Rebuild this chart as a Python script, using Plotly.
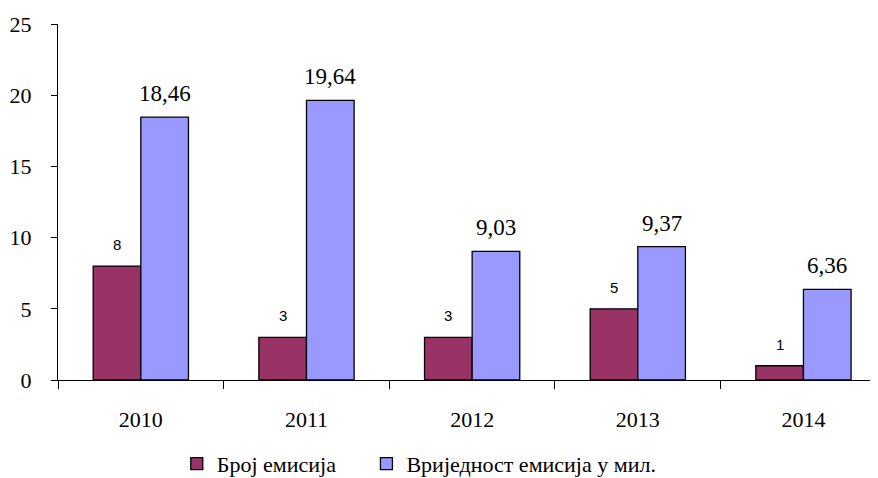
import plotly.graph_objects as go

years = ["2010", "2011", "2012", "2013", "2014"]
broj = [8, 3, 3, 5, 1]
vrijednost = [18.46, 19.64, 9.03, 9.37, 6.36]
vrijednost_labels = ["18,46", "19,64", "9,03", "9,37", "6,36"]
broj_labels = [str(v) for v in broj]

SERIF = "Liberation Serif"
SANS = "Liberation Sans"
MAROON = "#993366"
BLUE = "#9999FF"

BARGAP = 0.425
half = (1 - BARGAP) / 4  # offset of each bar centre from category centre

fig = go.Figure()
fig.add_trace(go.Bar(x=years, y=broj, name="Број емисија", legend="legend",
                     marker=dict(color=MAROON, line=dict(color="black", width=1.3))))
fig.add_trace(go.Bar(x=years, y=vrijednost, name="Вриједност емисија у мил.", legend="legend2",
                     marker=dict(color=BLUE, line=dict(color="black", width=1.3))))

annotations = []
for i, (v, t) in enumerate(zip(broj, broj_labels)):
    annotations.append(dict(x=i - half, y=v, xref="x", yref="y", text=t,
                            showarrow=False, yanchor="bottom", yshift=11,
                            font=dict(family=SANS, size=15, color="black")))
for i, (v, t) in enumerate(zip(vrijednost, vrijednost_labels)):
    annotations.append(dict(x=i + half, y=v, xref="x", yref="y", text=t,
                            showarrow=False, yanchor="bottom", yshift=9,
                            font=dict(family=SERIF, size=23, color="black")))

legend_common = dict(orientation="h", xanchor="left", y=0.03, yanchor="middle",
                     yref="container", xref="container",
                     font=dict(family=SERIF, size=22, color="black"), itemwidth=30)

fig.update_layout(
    width=870, height=470,
    margin=dict(l=50, r=0, t=16, b=98, autoexpand=False),
    paper_bgcolor="white", plot_bgcolor="white",
    barmode="group", bargap=BARGAP, bargroupgap=0,
    font=dict(family=SERIF, size=22, color="black"),
    showlegend=True,
    legend=dict(x=0.194, **legend_common),
    legend2=dict(x=0.412, **legend_common),
    annotations=annotations,
    xaxis=dict(type="category", range=[-0.5, 4.45], tickson="boundaries",
               ticks="outside", ticklen=8, tickcolor="black", tickwidth=1,
               showline=True, linecolor="black", linewidth=1, automargin=False,
               showgrid=False, zeroline=False, ticklabelstandoff=20,
               tickfont=dict(family=SERIF, size=22, color="black")),
    yaxis=dict(range=[0, 25], tick0=0, dtick=5, ticks="outside", ticklen=6,
               tickcolor="black", tickwidth=1, showline=True, linecolor="black",
               linewidth=1, showgrid=False, zeroline=False, ticklabelstandoff=15,
               automargin=False,
               tickfont=dict(family=SERIF, size=22, color="black")),
)

fig.write_html("out.html")
